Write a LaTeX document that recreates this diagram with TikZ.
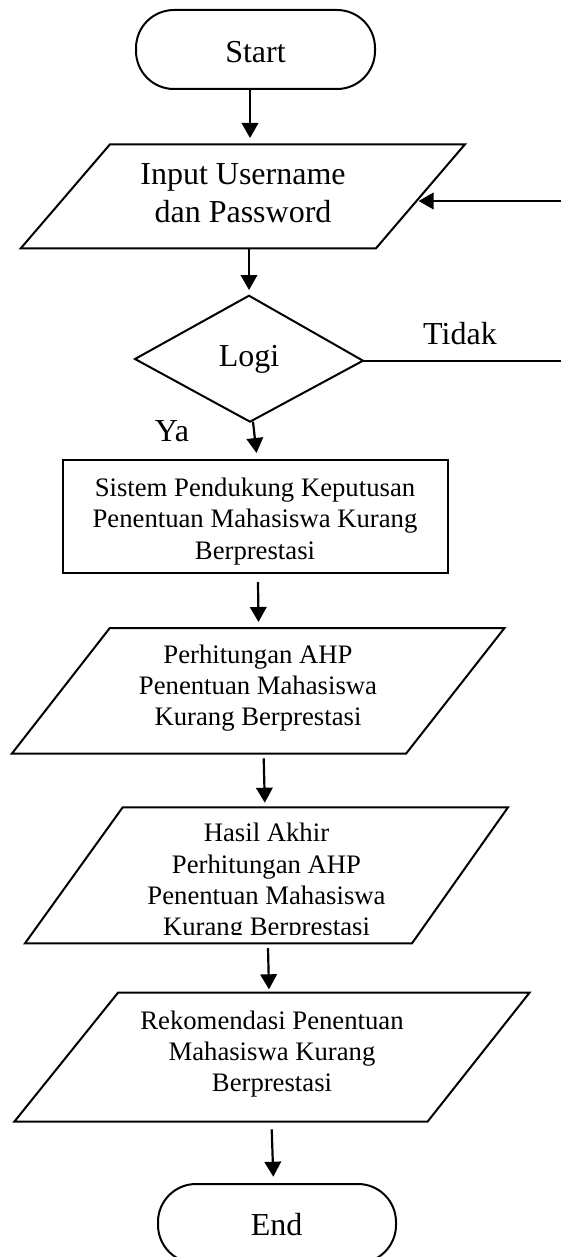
\documentclass[tikz,border=0pt]{standalone}
\usepackage{fontspec}
\setmainfont{Liberation Serif}
\usetikzlibrary{arrows.meta}
\tikzset{
  shapeline/.style={draw=black, line width=2pt, line join=miter},
  flow/.style={draw=black, line width=2.2pt, -{Triangle[width=16.5pt,length=15pt]}},
  plainline/.style={draw=black, line width=2.2pt},
  bigtext/.style={font=\fontsize{32}{38.4}\selectfont, inner sep=0pt, align=center},
  smalltext/.style={font=\fontsize{26.7}{31.3}\selectfont, inner sep=0pt, align=center},
}
\begin{document}
\begin{tikzpicture}[x=1pt,y={(0pt,-1pt)}]
\path[use as bounding box, clip] (0,0) rectangle (561,1257);
\fill[white] (0,0) rectangle (561,1257);

% ---- shapes ----
% Start terminal
\draw[shapeline, rounded corners=38pt] (136,10) rectangle (375,89);
\node[bigtext, anchor=base] (tstart) at (255.5,62.7) {Start};

% Input parallelogram
\draw[shapeline] (110,144.3) -- (465,144.3) -- (376,248.3) -- (20.8,248.3) -- cycle;
\node[bigtext] (tinput) at (243,192.9) {Input Username\\dan Password};

% Decision diamond
\draw[shapeline] (249,295.7) -- (363,360.7) -- (250,421.7) -- (135,359) -- cycle;
\node[bigtext, anchor=base] (tlogi) at (249,366.7) {Logi};
\node[bigtext, anchor=base] (ttidak) at (460,344) {Tidak};
\node[bigtext, anchor=base] (tya) at (172,441) {Ya};

% Process rectangle
\draw[shapeline] (63.3,460) rectangle (448,573);
\node[smalltext] (tsys) at (255,521.4) {Sistem Pendukung Keputusan\\Penentuan Mahasiswa Kurang\\Berprestasi};

% Perhitungan parallelogram
\draw[shapeline] (109.8,628) -- (504.5,628) -- (406,753.7) -- (11.8,753.7) -- cycle;
\node[smalltext] (tahp) at (258,688.2) {Perhitungan AHP\\Penentuan Mahasiswa\\Kurang Berprestasi};

% Hasil parallelogram
\draw[shapeline] (122.7,807.3) -- (508,807.3) -- (412,943.3) -- (25,943.3) -- cycle;
\begin{scope}
  \clip (0,0) rectangle (561,934);
  \node[smalltext] (thasil) at (266.5,882.3) {Hasil Akhir\\Perhitungan AHP\\Penentuan Mahasiswa\\Kurang Berprestasi};
\end{scope}

% Rekomendasi parallelogram
\draw[shapeline] (118,992.7) -- (529.5,992.7) -- (427.5,1121.7) -- (14.3,1121.7) -- cycle;
\node[smalltext] (trek) at (272,1054) {Rekomendasi Penentuan\\Mahasiswa Kurang\\Berprestasi};

% End terminal
\draw[shapeline, rounded corners=38pt] (158,1184) rectangle (396,1263);
\node[bigtext, anchor=base] (tend) at (276.7,1235) {End};

% ---- connector end points ----
\coordinate (a1s) at (250,89);    \coordinate (a1e) at (250,138);
\coordinate (a2s) at (249,248.3); \coordinate (a2e) at (249,290);
\coordinate (a3s) at (253,421.7); \coordinate (a3e) at (256.5,453);
\coordinate (a4s) at (258,582);   \coordinate (a4e) at (258.5,622);
\coordinate (a5s) at (263.7,758.3); \coordinate (a5e) at (264.8,802.7);
\coordinate (a6s) at (268,948);   \coordinate (a6e) at (269,989.3);
\coordinate (a7s) at (271.7,1129.3);  \coordinate (a7e) at (273.3,1176.7);
\coordinate (fbs) at (562,201);   \coordinate (fbe) at (418.6,201);
\coordinate (nos) at (362,360.7); \coordinate (noe) at (562,360.7);

% ---- connectors ----
\draw[flow] (a1s) -- (a1e);
\draw[flow] (a2s) -- (a2e);
\draw[flow] (a3s) -- (a3e);
\draw[flow] (a4s) -- (a4e);
\draw[flow] (a5s) -- (a5e);
\draw[flow] (a6s) -- (a6e);
\draw[flow] (a7s) -- (a7e);
\draw[flow] (fbs) -- (fbe);
\draw[plainline] (nos) -- (noe);
\end{tikzpicture}
\end{document}
